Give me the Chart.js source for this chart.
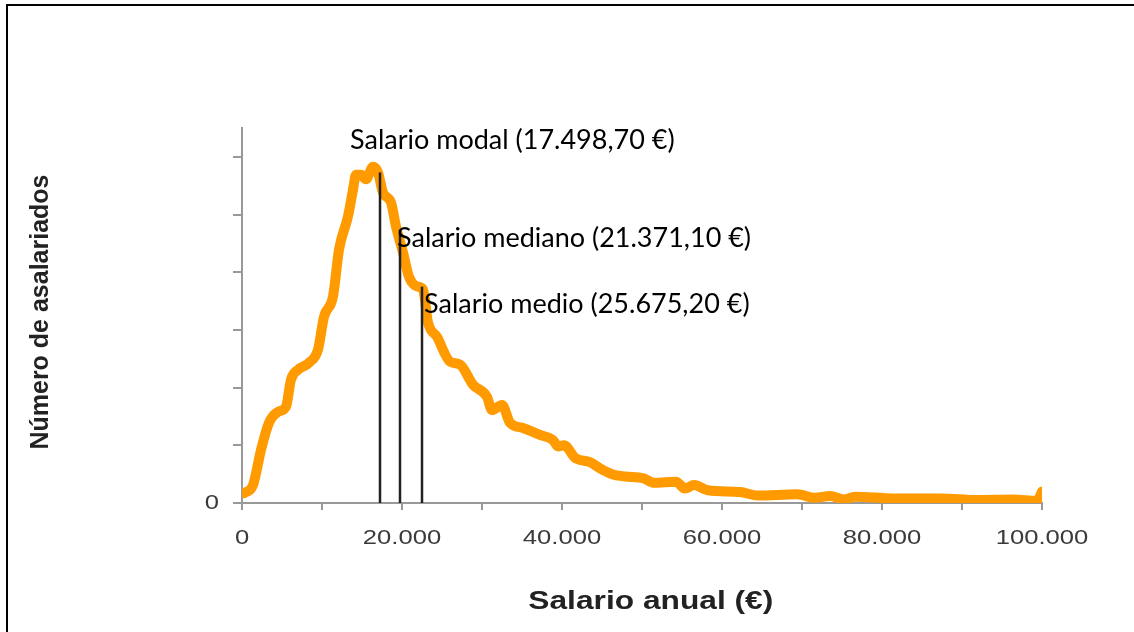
<!DOCTYPE html>
<html>
<head>
<meta charset="utf-8">
<script src="https://cdn.jsdelivr.net/npm/chart.js@4.4.1/dist/chart.umd.min.js"></script>
<style>
    body { margin: 0; background: #fff; overflow: hidden; }
    #marco { position: absolute; left: 6px; top: 4px; width: 2000px; height: 2000px;
             border-left: 2px solid #000; border-top: 2px solid #000; }
    #wrap { position: absolute; left: 0; top: 0; width: 1134px; height: 632px; }
</style>
</head>
<body>
<div id="marco"></div>
<div id="wrap"><canvas id="myChart" width="1134" height="632"></canvas></div>
<script>
// distribución salarial (salario anual en €, número de asalariados en unidades relativas)
const salario = [250, 1375, 2375, 3375, 4500, 5500, 6125, 7000, 8375, 9500, 10250, 11375, 12125, 13250,
    13875, 14250, 14875, 15500, 16375, 17000, 17625, 18625, 19250, 20125, 20875, 22000, 22625, 23250,
    24375, 26000, 27250, 28875, 30625, 31250, 32500, 33500, 35125, 37250, 38875, 39500, 40250, 41750,
    43500, 44750, 46250, 47875, 50125, 51500, 54250, 55375, 56500, 58250, 62250, 64500, 69375, 71625,
    73500, 75250, 76625, 81500, 87375, 91875, 96375, 99400, 100000];
const asalariados = [0.17, 0.31, 0.92, 1.39, 1.58, 1.67, 2.14, 2.31, 2.43, 2.66, 3.23, 3.58, 4.39, 4.97,
    5.43, 5.69, 5.69, 5.61, 5.83, 5.73, 5.38, 5.21, 4.79, 4.34, 3.92, 3.75, 3.70, 3.13,
    2.88, 2.45, 2.40, 2.05, 1.84, 1.61, 1.70, 1.39, 1.30, 1.18, 1.09, 0.98, 1.00, 0.77,
    0.71, 0.60, 0.50, 0.46, 0.43, 0.35, 0.37, 0.25, 0.31, 0.22, 0.19, 0.13, 0.15, 0.09,
    0.12, 0.06, 0.11, 0.08, 0.08, 0.05, 0.06, 0.04, 0.20];

// líneas verticales: moda, mediana, media
const lineasX = [17250, 19750, 22500];
const lineasAlto = [5.73, 4.74, 3.75];

const etiquetas = ['Salario modal (17.498,70 €)', 'Salario mediano (21.371,10 €)', 'Salario medio (25.675,20 €)'];
const etiquetasX = [13500, 19375, 22750];
const etiquetasY = [6.28, 4.58, 3.44];

const ticksX = [0, 20000, 40000, 60000, 80000, 100000];
const ticksY = [0];

function formato(v) {
    return String(v).replace(/\B(?=(\d{3})+(?!\d))/g, '.');
}

const datasets = [{
    data: salario.map((s, i) => ({x: s, y: asalariados[i]})),
    borderColor: '#ff9a00',
    borderWidth: 10,
    borderCapStyle: 'round',
    borderJoinStyle: 'round',
    cubicInterpolationMode: 'monotone',
    pointRadius: 0,
    order: 2
}];
lineasX.forEach((lx, i) => {
    datasets.push({
        data: [{x: lx, y: 0}, {x: lx, y: lineasAlto[i]}],
        borderColor: '#222',
        borderWidth: 2.5,
        pointRadius: 0,
        order: 1
    });
});

// el texto horizontal de los ejes aparece estirado en el original
let estirar = true;
const textoPlugin = {
    id: 'texto',
    beforeDraw(chart) {
        const ctx = chart.ctx;
        if (ctx._fillOrig) return;
        ctx._fillOrig = ctx.fillText;
        ctx.fillText = function (t, x, y, w) {
            const m = this.getTransform();
            if (estirar && m.b === 0) {
                this.save();
                this.translate(x, y);
                this.scale(1.22, 1);
                this._fillOrig(t, 0, 0);
                this.restore();
            } else {
                this._fillOrig(t, x, y, w);
            }
        };
    },
    afterDatasetsDraw(chart) {
        const ctx = chart.ctx;
        estirar = false;
        ctx.save();
        ctx.font = '27px Lato';
        ctx.fillStyle = '#000';
        ctx.textAlign = 'left';
        ctx.textBaseline = 'middle';
        etiquetas.forEach((t, i) => {
            ctx.fillText(t, chart.scales.x.getPixelForValue(etiquetasX[i]), chart.scales.y.getPixelForValue(etiquetasY[i]));
        });
        ctx.restore();
        estirar = true;
    }
};

const ctx = document.getElementById('myChart');
new Chart(ctx, {
    type: 'line',
    data: { datasets: datasets },
    plugins: [textoPlugin],
    options: {
        responsive: false,
        animation: false,
        layout: { padding: { left: 20, top: 128, right: 92, bottom: 0 } },
        plugins: { legend: { display: false }, tooltip: { enabled: false } },
        scales: {
            x: {
                type: 'linear',
                min: 0,
                max: 100000,
                afterFit: (s) => { s.height = 129; },
                ticks: {
                    stepSize: 10000,
                    autoSkip: false,
                    maxRotation: 0,
                    padding: 16,
                    color: '#3a3a3a',
                    font: { family: 'Liberation Sans', size: 21 },
                    callback: (v) => ticksX.includes(v) ? formato(v) : ''
                },
                grid: { drawOnChartArea: false, tickLength: 7, color: '#999', lineWidth: 2 },
                border: { color: '#999', width: 2 },
                title: {
                    display: true,
                    text: '\u00a0\u00a0Salario anual (€)',
                    color: '#222',
                    font: { family: 'Liberation Sans', size: 26, weight: 'bold' },
                    padding: { top: 0, bottom: 15 }
                }
            },
            y: {
                min: 0,
                max: 6.5,
                afterFit: (s) => { s.width = 222; },
                ticks: {
                    stepSize: 1,
                    includeBounds: false,
                    padding: 14,
                    color: '#3a3a3a',
                    font: { family: 'Liberation Sans', size: 21 },
                    callback: (v) => ticksY.includes(v) ? String(v) : ''
                },
                grid: { drawOnChartArea: false, tickLength: 9, color: '#999', lineWidth: 2 },
                border: { color: '#999', width: 2 },
                title: {
                    display: true,
                    text: '\u00a0Número de asalariados',
                    color: '#222',
                    font: { family: 'Liberation Sans', size: 25, weight: 'bold' },
                    padding: { top: 6, bottom: 0 }
                }
            }
        }
    }
});
</script>
</body>
</html>
